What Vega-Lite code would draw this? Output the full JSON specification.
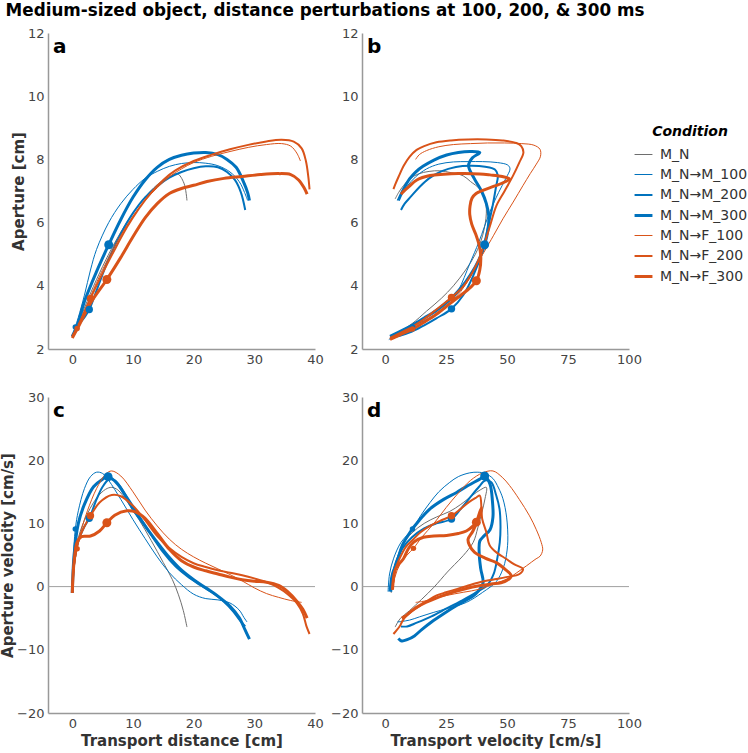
{
"$schema":"https://vega.github.io/schema/vega-lite/v6.json",
"background":"white",
"padding":{"left":0,"top":3,"right":2,"bottom":2},
"title":{"text":"Medium-sized object, distance perturbations at 100, 200, & 300 ms","anchor":"start","frame":"bounds","fontSize":16.8,"font":"DejaVu Sans","fontWeight":"bold","color":"black","offset":7,"dx":5},
"datasets":{
"a":[
{"c":"M_N","i":0,"x":0,"y":2.4},{"c":"M_N","i":1,"x":1,"y":2.8},{"c":"M_N","i":2,"x":2,"y":3.3},{"c":"M_N","i":3,"x":4,"y":4.2},{"c":"M_N","i":4,"x":6,"y":5.0},{"c":"M_N","i":5,"x":8,"y":5.7},{"c":"M_N","i":6,"x":10,"y":6.3},{"c":"M_N","i":7,"x":12,"y":6.8},{"c":"M_N","i":8,"x":14,"y":7.2},{"c":"M_N","i":9,"x":16,"y":7.45},{"c":"M_N","i":10,"x":17.3,"y":7.55},{"c":"M_N","i":11,"x":18.4,"y":7.25},{"c":"M_N","i":12,"x":18.9,"y":6.7},
{"c":"M_N→M_100","i":0,"x":0,"y":2.35},{"c":"M_N→M_100","i":1,"x":0.5,"y":2.7},{"c":"M_N→M_100","i":2,"x":1,"y":3.0},{"c":"M_N→M_100","i":3,"x":2,"y":3.7},{"c":"M_N→M_100","i":4,"x":3,"y":4.5},{"c":"M_N→M_100","i":5,"x":4,"y":5.15},{"c":"M_N→M_100","i":6,"x":6,"y":6.0},{"c":"M_N→M_100","i":7,"x":8,"y":6.6},{"c":"M_N→M_100","i":8,"x":10,"y":7.05},{"c":"M_N→M_100","i":9,"x":12,"y":7.4},{"c":"M_N→M_100","i":10,"x":14,"y":7.62},{"c":"M_N→M_100","i":11,"x":16,"y":7.78},{"c":"M_N→M_100","i":12,"x":18,"y":7.87},{"c":"M_N→M_100","i":13,"x":20,"y":7.9},{"c":"M_N→M_100","i":14,"x":22,"y":7.88},{"c":"M_N→M_100","i":15,"x":24,"y":7.8},{"c":"M_N→M_100","i":16,"x":26,"y":7.6},{"c":"M_N→M_100","i":17,"x":27.5,"y":7.3},{"c":"M_N→M_100","i":18,"x":28.4,"y":6.95},{"c":"M_N→M_100","i":19,"x":28.9,"y":6.7},
{"c":"M_N→M_200","i":0,"x":0,"y":2.4},{"c":"M_N→M_200","i":1,"x":1,"y":2.75},{"c":"M_N→M_200","i":2,"x":2,"y":3.0},{"c":"M_N→M_200","i":3,"x":2.8,"y":3.25},{"c":"M_N→M_200","i":4,"x":4,"y":3.85},{"c":"M_N→M_200","i":5,"x":6,"y":4.85},{"c":"M_N→M_200","i":6,"x":8,"y":5.65},{"c":"M_N→M_200","i":7,"x":10,"y":6.3},{"c":"M_N→M_200","i":8,"x":12,"y":6.8},{"c":"M_N→M_200","i":9,"x":14,"y":7.15},{"c":"M_N→M_200","i":10,"x":16,"y":7.42},{"c":"M_N→M_200","i":11,"x":18,"y":7.6},{"c":"M_N→M_200","i":12,"x":20,"y":7.72},{"c":"M_N→M_200","i":13,"x":22,"y":7.78},{"c":"M_N→M_200","i":14,"x":24,"y":7.75},{"c":"M_N→M_200","i":15,"x":25.5,"y":7.6},{"c":"M_N→M_200","i":16,"x":26.8,"y":7.35},{"c":"M_N→M_200","i":17,"x":27.8,"y":6.95},{"c":"M_N→M_200","i":18,"x":28.5,"y":6.4},
{"c":"M_N→M_300","i":0,"x":0,"y":2.4},{"c":"M_N→M_300","i":1,"x":1,"y":2.85},{"c":"M_N→M_300","i":2,"x":2,"y":3.5},{"c":"M_N→M_300","i":3,"x":4,"y":4.45},{"c":"M_N→M_300","i":4,"x":6,"y":5.3},{"c":"M_N→M_300","i":5,"x":8,"y":6.1},{"c":"M_N→M_300","i":6,"x":10,"y":6.8},{"c":"M_N→M_300","i":7,"x":12,"y":7.35},{"c":"M_N→M_300","i":8,"x":14,"y":7.75},{"c":"M_N→M_300","i":9,"x":16,"y":8.0},{"c":"M_N→M_300","i":10,"x":18,"y":8.13},{"c":"M_N→M_300","i":11,"x":20,"y":8.2},{"c":"M_N→M_300","i":12,"x":22,"y":8.22},{"c":"M_N→M_300","i":13,"x":24,"y":8.15},{"c":"M_N→M_300","i":14,"x":25.5,"y":8.0},{"c":"M_N→M_300","i":15,"x":27,"y":7.75},{"c":"M_N→M_300","i":16,"x":28.2,"y":7.3},{"c":"M_N→M_300","i":17,"x":28.9,"y":6.95},{"c":"M_N→M_300","i":18,"x":29.2,"y":6.7},
{"c":"M_N→F_100","i":0,"x":0,"y":2.4},{"c":"M_N→F_100","i":1,"x":0.8,"y":2.65},{"c":"M_N→F_100","i":2,"x":2,"y":3.2},{"c":"M_N→F_100","i":3,"x":4,"y":4.1},{"c":"M_N→F_100","i":4,"x":6,"y":4.9},{"c":"M_N→F_100","i":5,"x":8,"y":5.6},{"c":"M_N→F_100","i":6,"x":10,"y":6.2},{"c":"M_N→F_100","i":7,"x":12,"y":6.7},{"c":"M_N→F_100","i":8,"x":14,"y":7.1},{"c":"M_N→F_100","i":9,"x":16,"y":7.45},{"c":"M_N→F_100","i":10,"x":18,"y":7.7},{"c":"M_N→F_100","i":11,"x":20,"y":7.9},{"c":"M_N→F_100","i":12,"x":23,"y":8.1},{"c":"M_N→F_100","i":13,"x":26,"y":8.25},{"c":"M_N→F_100","i":14,"x":29,"y":8.38},{"c":"M_N→F_100","i":15,"x":32,"y":8.47},{"c":"M_N→F_100","i":16,"x":34.5,"y":8.5},{"c":"M_N→F_100","i":17,"x":36,"y":8.42},{"c":"M_N→F_100","i":18,"x":37,"y":8.2},{"c":"M_N→F_100","i":19,"x":37.6,"y":7.95},
{"c":"M_N→F_200","i":0,"x":0,"y":2.4},{"c":"M_N→F_200","i":1,"x":1,"y":2.75},{"c":"M_N→F_200","i":2,"x":3,"y":3.6},{"c":"M_N→F_200","i":3,"x":5,"y":4.4},{"c":"M_N→F_200","i":4,"x":7,"y":5.15},{"c":"M_N→F_200","i":5,"x":9,"y":5.85},{"c":"M_N→F_200","i":6,"x":11,"y":6.45},{"c":"M_N→F_200","i":7,"x":13,"y":6.95},{"c":"M_N→F_200","i":8,"x":15,"y":7.35},{"c":"M_N→F_200","i":9,"x":17,"y":7.65},{"c":"M_N→F_200","i":10,"x":20,"y":7.95},{"c":"M_N→F_200","i":11,"x":23,"y":8.15},{"c":"M_N→F_200","i":12,"x":26,"y":8.32},{"c":"M_N→F_200","i":13,"x":29,"y":8.46},{"c":"M_N→F_200","i":14,"x":32,"y":8.57},{"c":"M_N→F_200","i":15,"x":34.5,"y":8.62},{"c":"M_N→F_200","i":16,"x":36.5,"y":8.56},{"c":"M_N→F_200","i":17,"x":37.8,"y":8.35},{"c":"M_N→F_200","i":18,"x":38.5,"y":7.95},{"c":"M_N→F_200","i":19,"x":38.9,"y":7.45},{"c":"M_N→F_200","i":20,"x":39.1,"y":7.05},
{"c":"M_N→F_300","i":0,"x":0,"y":2.35},{"c":"M_N→F_300","i":1,"x":1,"y":2.7},{"c":"M_N→F_300","i":2,"x":3,"y":3.45},{"c":"M_N→F_300","i":3,"x":5.7,"y":4.2},{"c":"M_N→F_300","i":4,"x":8,"y":4.9},{"c":"M_N→F_300","i":5,"x":10,"y":5.55},{"c":"M_N→F_300","i":6,"x":12,"y":6.15},{"c":"M_N→F_300","i":7,"x":14,"y":6.6},{"c":"M_N→F_300","i":8,"x":16,"y":6.92},{"c":"M_N→F_300","i":9,"x":18,"y":7.08},{"c":"M_N→F_300","i":10,"x":20,"y":7.18},{"c":"M_N→F_300","i":11,"x":22.2,"y":7.3},{"c":"M_N→F_300","i":12,"x":25,"y":7.4},{"c":"M_N→F_300","i":13,"x":28,"y":7.46},{"c":"M_N→F_300","i":14,"x":31,"y":7.52},{"c":"M_N→F_300","i":15,"x":34,"y":7.55},{"c":"M_N→F_300","i":16,"x":36,"y":7.52},{"c":"M_N→F_300","i":17,"x":37.3,"y":7.35},{"c":"M_N→F_300","i":18,"x":38.2,"y":7.1},{"c":"M_N→F_300","i":19,"x":38.7,"y":6.9}
],
"b":[
{"c":"M_N","i":0,"x":2.5,"y":2.4},{"c":"M_N","i":1,"x":6,"y":2.55},{"c":"M_N","i":2,"x":11,"y":2.8},{"c":"M_N","i":3,"x":17,"y":3.2},{"c":"M_N","i":4,"x":23,"y":3.6},{"c":"M_N","i":5,"x":28,"y":4.0},{"c":"M_N","i":6,"x":33,"y":4.5},{"c":"M_N","i":7,"x":37,"y":5.0},{"c":"M_N","i":8,"x":40,"y":5.6},{"c":"M_N","i":9,"x":41.5,"y":6.3},{"c":"M_N","i":10,"x":41,"y":6.7},{"c":"M_N","i":11,"x":38.8,"y":7.06},{"c":"M_N","i":12,"x":35,"y":7.3},{"c":"M_N","i":13,"x":32,"y":7.48},{"c":"M_N","i":14,"x":27,"y":7.58},{"c":"M_N","i":15,"x":22.4,"y":7.64},{"c":"M_N","i":16,"x":18,"y":7.62},{"c":"M_N","i":17,"x":13.6,"y":7.54},{"c":"M_N","i":18,"x":10,"y":7.38},{"c":"M_N","i":19,"x":7.5,"y":7.17},{"c":"M_N","i":20,"x":5.5,"y":6.95},{"c":"M_N","i":21,"x":4.1,"y":6.75},
{"c":"M_N→M_100","i":0,"x":1.5,"y":2.3},{"c":"M_N→M_100","i":1,"x":5,"y":2.45},{"c":"M_N→M_100","i":2,"x":11.2,"y":2.7},{"c":"M_N→M_100","i":3,"x":16,"y":2.9},{"c":"M_N→M_100","i":4,"x":21,"y":3.1},{"c":"M_N→M_100","i":5,"x":26,"y":3.4},{"c":"M_N→M_100","i":6,"x":30,"y":3.85},{"c":"M_N→M_100","i":7,"x":34.7,"y":4.7},{"c":"M_N→M_100","i":8,"x":38.5,"y":5.4},{"c":"M_N→M_100","i":9,"x":42.9,"y":6.33},{"c":"M_N→M_100","i":10,"x":46.5,"y":6.95},{"c":"M_N→M_100","i":11,"x":49.5,"y":7.4},{"c":"M_N→M_100","i":12,"x":51.2,"y":7.7},{"c":"M_N→M_100","i":13,"x":50.3,"y":7.82},{"c":"M_N→M_100","i":14,"x":46,"y":7.9},{"c":"M_N→M_100","i":15,"x":40,"y":7.93},{"c":"M_N→M_100","i":16,"x":34,"y":7.93},{"c":"M_N→M_100","i":17,"x":28,"y":7.92},{"c":"M_N→M_100","i":18,"x":22,"y":7.85},{"c":"M_N→M_100","i":19,"x":17,"y":7.7},{"c":"M_N→M_100","i":20,"x":12.5,"y":7.45},{"c":"M_N→M_100","i":21,"x":9,"y":7.15},{"c":"M_N→M_100","i":22,"x":6.5,"y":6.9},{"c":"M_N→M_100","i":23,"x":5,"y":6.7},
{"c":"M_N→M_200","i":0,"x":2,"y":2.35},{"c":"M_N→M_200","i":1,"x":6,"y":2.42},{"c":"M_N→M_200","i":2,"x":11,"y":2.55},{"c":"M_N→M_200","i":3,"x":16,"y":2.75},{"c":"M_N→M_200","i":4,"x":21,"y":2.97},{"c":"M_N→M_200","i":5,"x":27.2,"y":3.27},{"c":"M_N→M_200","i":6,"x":32,"y":3.7},{"c":"M_N→M_200","i":7,"x":36,"y":4.3},{"c":"M_N→M_200","i":8,"x":39.5,"y":5.0},{"c":"M_N→M_200","i":9,"x":42,"y":5.8},{"c":"M_N→M_200","i":10,"x":44,"y":6.5},{"c":"M_N→M_200","i":11,"x":45.5,"y":7.15},{"c":"M_N→M_200","i":12,"x":46.2,"y":7.5},{"c":"M_N→M_200","i":13,"x":45,"y":7.68},{"c":"M_N→M_200","i":14,"x":41,"y":7.77},{"c":"M_N→M_200","i":15,"x":35,"y":7.8},{"c":"M_N→M_200","i":16,"x":29,"y":7.76},{"c":"M_N→M_200","i":17,"x":23,"y":7.62},{"c":"M_N→M_200","i":18,"x":18,"y":7.4},{"c":"M_N→M_200","i":19,"x":14,"y":7.12},{"c":"M_N→M_200","i":20,"x":10.5,"y":6.82},{"c":"M_N→M_200","i":21,"x":8,"y":6.6},{"c":"M_N→M_200","i":22,"x":6.5,"y":6.4},
{"c":"M_N→M_300","i":0,"x":2,"y":2.4},{"c":"M_N→M_300","i":1,"x":6,"y":2.55},{"c":"M_N→M_300","i":2,"x":11,"y":2.75},{"c":"M_N→M_300","i":3,"x":16,"y":2.98},{"c":"M_N→M_300","i":4,"x":21,"y":3.22},{"c":"M_N→M_300","i":5,"x":26,"y":3.52},{"c":"M_N→M_300","i":6,"x":31,"y":3.92},{"c":"M_N→M_300","i":7,"x":35,"y":4.35},{"c":"M_N→M_300","i":8,"x":38.3,"y":4.8},{"c":"M_N→M_300","i":9,"x":40.8,"y":5.3},{"c":"M_N→M_300","i":10,"x":42.2,"y":5.8},{"c":"M_N→M_300","i":11,"x":42.5,"y":6.2},{"c":"M_N→M_300","i":12,"x":41.5,"y":6.6},{"c":"M_N→M_300","i":13,"x":39.5,"y":7.0},{"c":"M_N→M_300","i":14,"x":36.5,"y":7.4},{"c":"M_N→M_300","i":15,"x":34.2,"y":7.8},{"c":"M_N→M_300","i":16,"x":35.8,"y":8.05},{"c":"M_N→M_300","i":17,"x":38.8,"y":8.22},{"c":"M_N→M_300","i":18,"x":35,"y":8.25},{"c":"M_N→M_300","i":19,"x":30,"y":8.22},{"c":"M_N→M_300","i":20,"x":25.2,"y":8.14},{"c":"M_N→M_300","i":21,"x":20,"y":7.98},{"c":"M_N→M_300","i":22,"x":15.5,"y":7.78},{"c":"M_N→M_300","i":23,"x":12.5,"y":7.6},{"c":"M_N→M_300","i":24,"x":10,"y":7.38},{"c":"M_N→M_300","i":25,"x":7.5,"y":7.05},{"c":"M_N→M_300","i":26,"x":5.4,"y":6.7},
{"c":"M_N→F_100","i":0,"x":2,"y":2.35},{"c":"M_N→F_100","i":1,"x":6,"y":2.45},{"c":"M_N→F_100","i":2,"x":11.2,"y":2.63},{"c":"M_N→F_100","i":3,"x":16,"y":2.85},{"c":"M_N→F_100","i":4,"x":21,"y":3.1},{"c":"M_N→F_100","i":5,"x":26,"y":3.42},{"c":"M_N→F_100","i":6,"x":31,"y":3.82},{"c":"M_N→F_100","i":7,"x":35,"y":4.3},{"c":"M_N→F_100","i":8,"x":38.5,"y":4.8},{"c":"M_N→F_100","i":9,"x":40.8,"y":5.1},{"c":"M_N→F_100","i":10,"x":44.5,"y":5.6},{"c":"M_N→F_100","i":11,"x":48.3,"y":6.12},{"c":"M_N→F_100","i":12,"x":52.5,"y":6.65},{"c":"M_N→F_100","i":13,"x":56.5,"y":7.17},{"c":"M_N→F_100","i":14,"x":59.5,"y":7.55},{"c":"M_N→F_100","i":15,"x":62,"y":7.85},{"c":"M_N→F_100","i":16,"x":63.7,"y":8.1},{"c":"M_N→F_100","i":17,"x":63.5,"y":8.32},{"c":"M_N→F_100","i":18,"x":61,"y":8.45},{"c":"M_N→F_100","i":19,"x":56,"y":8.5},{"c":"M_N→F_100","i":20,"x":49,"y":8.52},{"c":"M_N→F_100","i":21,"x":42,"y":8.52},{"c":"M_N→F_100","i":22,"x":35,"y":8.5},{"c":"M_N→F_100","i":23,"x":28,"y":8.47},{"c":"M_N→F_100","i":24,"x":22,"y":8.4},{"c":"M_N→F_100","i":25,"x":17,"y":8.28},{"c":"M_N→F_100","i":26,"x":14,"y":8.15},{"c":"M_N→F_100","i":27,"x":12.5,"y":8.0},
{"c":"M_N→F_200","i":0,"x":2,"y":2.35},{"c":"M_N→F_200","i":1,"x":6,"y":2.5},{"c":"M_N→F_200","i":2,"x":11,"y":2.7},{"c":"M_N→F_200","i":3,"x":16,"y":2.95},{"c":"M_N→F_200","i":4,"x":21,"y":3.25},{"c":"M_N→F_200","i":5,"x":27.2,"y":3.63},{"c":"M_N→F_200","i":6,"x":32,"y":3.98},{"c":"M_N→F_200","i":7,"x":36,"y":4.45},{"c":"M_N→F_200","i":8,"x":39,"y":4.95},{"c":"M_N→F_200","i":9,"x":41.2,"y":5.45},{"c":"M_N→F_200","i":10,"x":43.2,"y":5.95},{"c":"M_N→F_200","i":11,"x":45.6,"y":6.53},{"c":"M_N→F_200","i":12,"x":49,"y":7.0},{"c":"M_N→F_200","i":13,"x":52.4,"y":7.48},{"c":"M_N→F_200","i":14,"x":55,"y":7.9},{"c":"M_N→F_200","i":15,"x":56.7,"y":8.22},{"c":"M_N→F_200","i":16,"x":55.8,"y":8.42},{"c":"M_N→F_200","i":17,"x":53.8,"y":8.52},{"c":"M_N→F_200","i":18,"x":48,"y":8.6},{"c":"M_N→F_200","i":19,"x":41.5,"y":8.63},{"c":"M_N→F_200","i":20,"x":34,"y":8.63},{"c":"M_N→F_200","i":21,"x":27,"y":8.6},{"c":"M_N→F_200","i":22,"x":21,"y":8.54},{"c":"M_N→F_200","i":23,"x":16,"y":8.42},{"c":"M_N→F_200","i":24,"x":12.9,"y":8.3},{"c":"M_N→F_200","i":25,"x":10,"y":8.08},{"c":"M_N→F_200","i":26,"x":7.6,"y":7.8},{"c":"M_N→F_200","i":27,"x":5.5,"y":7.45},{"c":"M_N→F_200","i":28,"x":4.1,"y":7.2},{"c":"M_N→F_200","i":29,"x":3.4,"y":7.06},
{"c":"M_N→F_300","i":0,"x":2,"y":2.3},{"c":"M_N→F_300","i":1,"x":6,"y":2.45},{"c":"M_N→F_300","i":2,"x":11,"y":2.62},{"c":"M_N→F_300","i":3,"x":16,"y":2.85},{"c":"M_N→F_300","i":4,"x":21,"y":3.1},{"c":"M_N→F_300","i":5,"x":26,"y":3.4},{"c":"M_N→F_300","i":6,"x":31,"y":3.7},{"c":"M_N→F_300","i":7,"x":35,"y":3.95},{"c":"M_N→F_300","i":8,"x":37.4,"y":4.16},{"c":"M_N→F_300","i":9,"x":38.8,"y":4.5},{"c":"M_N→F_300","i":10,"x":39.2,"y":4.95},{"c":"M_N→F_300","i":11,"x":38.5,"y":5.3},{"c":"M_N→F_300","i":12,"x":37.2,"y":5.62},{"c":"M_N→F_300","i":13,"x":35.5,"y":5.95},{"c":"M_N→F_300","i":14,"x":34.7,"y":6.25},{"c":"M_N→F_300","i":15,"x":34.8,"y":6.52},{"c":"M_N→F_300","i":16,"x":35.6,"y":6.77},{"c":"M_N→F_300","i":17,"x":37.3,"y":6.92},{"c":"M_N→F_300","i":18,"x":40.1,"y":7.02},{"c":"M_N→F_300","i":19,"x":45,"y":7.16},{"c":"M_N→F_300","i":20,"x":49.5,"y":7.3},{"c":"M_N→F_300","i":21,"x":51,"y":7.38},{"c":"M_N→F_300","i":22,"x":48,"y":7.46},{"c":"M_N→F_300","i":23,"x":43,"y":7.51},{"c":"M_N→F_300","i":24,"x":38.8,"y":7.54},{"c":"M_N→F_300","i":25,"x":30,"y":7.55},{"c":"M_N→F_300","i":26,"x":24,"y":7.53},{"c":"M_N→F_300","i":27,"x":18.4,"y":7.49},{"c":"M_N→F_300","i":28,"x":13,"y":7.35},{"c":"M_N→F_300","i":29,"x":9.5,"y":7.12},{"c":"M_N→F_300","i":30,"x":7.5,"y":6.98},{"c":"M_N→F_300","i":31,"x":6.5,"y":6.9}
],
"c":[
{"c":"M_N","i":0,"x":0,"y":-1},{"c":"M_N","i":1,"x":0.3,"y":4},{"c":"M_N","i":2,"x":0.8,"y":7},{"c":"M_N","i":3,"x":2,"y":10.5},{"c":"M_N","i":4,"x":4,"y":14},{"c":"M_N","i":5,"x":5.5,"y":15.4},{"c":"M_N","i":6,"x":6.5,"y":15.7},{"c":"M_N","i":7,"x":7.5,"y":15.3},{"c":"M_N","i":8,"x":9,"y":13.5},{"c":"M_N","i":9,"x":11,"y":10.6},{"c":"M_N","i":10,"x":13,"y":7.3},{"c":"M_N","i":11,"x":15,"y":3.8},{"c":"M_N","i":12,"x":16.5,"y":1.1},{"c":"M_N","i":13,"x":17.5,"y":-1.3},{"c":"M_N","i":14,"x":18.3,"y":-3.8},{"c":"M_N","i":15,"x":18.9,"y":-6.4},
{"c":"M_N→M_100","i":0,"x":0,"y":-1},{"c":"M_N→M_100","i":1,"x":0.15,"y":4},{"c":"M_N→M_100","i":2,"x":0.5,"y":9.1},{"c":"M_N→M_100","i":3,"x":1,"y":12},{"c":"M_N→M_100","i":4,"x":2,"y":15.5},{"c":"M_N→M_100","i":5,"x":3,"y":17.4},{"c":"M_N→M_100","i":6,"x":4,"y":18.1},{"c":"M_N→M_100","i":7,"x":5,"y":17.9},{"c":"M_N→M_100","i":8,"x":6,"y":16.8},{"c":"M_N→M_100","i":9,"x":8,"y":13.8},{"c":"M_N→M_100","i":10,"x":10,"y":10.6},{"c":"M_N→M_100","i":11,"x":12,"y":7.6},{"c":"M_N→M_100","i":12,"x":14,"y":4.7},{"c":"M_N→M_100","i":13,"x":16,"y":2.2},{"c":"M_N→M_100","i":14,"x":18,"y":0.3},{"c":"M_N→M_100","i":15,"x":20,"y":-1.2},{"c":"M_N→M_100","i":16,"x":22,"y":-1.9},{"c":"M_N→M_100","i":17,"x":24,"y":-2.1},{"c":"M_N→M_100","i":18,"x":26,"y":-2.6},{"c":"M_N→M_100","i":19,"x":27.5,"y":-3.7},{"c":"M_N→M_100","i":20,"x":28.3,"y":-4.9},{"c":"M_N→M_100","i":21,"x":28.8,"y":-5.6},
{"c":"M_N→M_200","i":0,"x":0,"y":-1},{"c":"M_N→M_200","i":1,"x":0.3,"y":3.5},{"c":"M_N→M_200","i":2,"x":1,"y":7.2},{"c":"M_N→M_200","i":3,"x":2,"y":9.5},{"c":"M_N→M_200","i":4,"x":2.8,"y":10.8},{"c":"M_N→M_200","i":5,"x":4,"y":13.8},{"c":"M_N→M_200","i":6,"x":5,"y":15.8},{"c":"M_N→M_200","i":7,"x":6,"y":16.9},{"c":"M_N→M_200","i":8,"x":7,"y":16.8},{"c":"M_N→M_200","i":9,"x":9,"y":14.2},{"c":"M_N→M_200","i":10,"x":11,"y":11.2},{"c":"M_N→M_200","i":11,"x":13,"y":8.2},{"c":"M_N→M_200","i":12,"x":15,"y":5.4},{"c":"M_N→M_200","i":13,"x":17,"y":3.2},{"c":"M_N→M_200","i":14,"x":19,"y":1.6},{"c":"M_N→M_200","i":15,"x":21,"y":0.3},{"c":"M_N→M_200","i":16,"x":23,"y":-0.9},{"c":"M_N→M_200","i":17,"x":25,"y":-2.4},{"c":"M_N→M_200","i":18,"x":26.5,"y":-3.9},{"c":"M_N→M_200","i":19,"x":27.6,"y":-5.3},{"c":"M_N→M_200","i":20,"x":28.5,"y":-6.3},
{"c":"M_N→M_300","i":0,"x":0,"y":-1},{"c":"M_N→M_300","i":1,"x":0.3,"y":5},{"c":"M_N→M_300","i":2,"x":1,"y":10},{"c":"M_N→M_300","i":3,"x":2,"y":13},{"c":"M_N→M_300","i":4,"x":3.5,"y":15.8},{"c":"M_N→M_300","i":5,"x":5,"y":17},{"c":"M_N→M_300","i":6,"x":5.9,"y":17.4},{"c":"M_N→M_300","i":7,"x":7.5,"y":16.2},{"c":"M_N→M_300","i":8,"x":10,"y":12.3},{"c":"M_N→M_300","i":9,"x":12,"y":9.6},{"c":"M_N→M_300","i":10,"x":14,"y":7.0},{"c":"M_N→M_300","i":11,"x":16,"y":4.6},{"c":"M_N→M_300","i":12,"x":18,"y":2.6},{"c":"M_N→M_300","i":13,"x":20,"y":1.1},{"c":"M_N→M_300","i":14,"x":22,"y":-0.2},{"c":"M_N→M_300","i":15,"x":24,"y":-1.5},{"c":"M_N→M_300","i":16,"x":26,"y":-3.1},{"c":"M_N→M_300","i":17,"x":27.5,"y":-4.9},{"c":"M_N→M_300","i":18,"x":28.5,"y":-6.9},{"c":"M_N→M_300","i":19,"x":29.2,"y":-8.3},
{"c":"M_N→F_100","i":0,"x":0,"y":-1},{"c":"M_N→F_100","i":1,"x":0.3,"y":3},{"c":"M_N→F_100","i":2,"x":0.8,"y":6},{"c":"M_N→F_100","i":3,"x":1.5,"y":9},{"c":"M_N→F_100","i":4,"x":2.5,"y":12},{"c":"M_N→F_100","i":5,"x":4,"y":15.5},{"c":"M_N→F_100","i":6,"x":5.5,"y":17.8},{"c":"M_N→F_100","i":7,"x":6.5,"y":18.3},{"c":"M_N→F_100","i":8,"x":8,"y":17.5},{"c":"M_N→F_100","i":9,"x":10,"y":15},{"c":"M_N→F_100","i":10,"x":12,"y":12.1},{"c":"M_N→F_100","i":11,"x":14,"y":9.6},{"c":"M_N→F_100","i":12,"x":16,"y":7.5},{"c":"M_N→F_100","i":13,"x":18,"y":5.9},{"c":"M_N→F_100","i":14,"x":20,"y":4.7},{"c":"M_N→F_100","i":15,"x":22,"y":3.7},{"c":"M_N→F_100","i":16,"x":24,"y":2.8},{"c":"M_N→F_100","i":17,"x":26,"y":1.9},{"c":"M_N→F_100","i":18,"x":28,"y":0.9},{"c":"M_N→F_100","i":19,"x":30,"y":-0.2},{"c":"M_N→F_100","i":20,"x":32,"y":-1.1},{"c":"M_N→F_100","i":21,"x":34,"y":-1.7},{"c":"M_N→F_100","i":22,"x":36,"y":-2.2},{"c":"M_N→F_100","i":23,"x":37.8,"y":-2.5},
{"c":"M_N→F_200","i":0,"x":0,"y":-1},{"c":"M_N→F_200","i":1,"x":0.3,"y":3.5},{"c":"M_N→F_200","i":2,"x":1,"y":7.2},{"c":"M_N→F_200","i":3,"x":2,"y":9.5},{"c":"M_N→F_200","i":4,"x":3,"y":11.2},{"c":"M_N→F_200","i":5,"x":4.5,"y":13.3},{"c":"M_N→F_200","i":6,"x":6.5,"y":14.5},{"c":"M_N→F_200","i":7,"x":8,"y":14.3},{"c":"M_N→F_200","i":8,"x":10,"y":12.8},{"c":"M_N→F_200","i":9,"x":12,"y":10.5},{"c":"M_N→F_200","i":10,"x":14,"y":8},{"c":"M_N→F_200","i":11,"x":16,"y":6.1},{"c":"M_N→F_200","i":12,"x":18,"y":4.7},{"c":"M_N→F_200","i":13,"x":20,"y":3.7},{"c":"M_N→F_200","i":14,"x":22,"y":3.1},{"c":"M_N→F_200","i":15,"x":24,"y":2.6},{"c":"M_N→F_200","i":16,"x":26,"y":2.2},{"c":"M_N→F_200","i":17,"x":28,"y":1.8},{"c":"M_N→F_200","i":18,"x":30,"y":1.3},{"c":"M_N→F_200","i":19,"x":32,"y":0.7},{"c":"M_N→F_200","i":20,"x":34,"y":-0.2},{"c":"M_N→F_200","i":21,"x":35.5,"y":-1.2},{"c":"M_N→F_200","i":22,"x":37,"y":-2.6},{"c":"M_N→F_200","i":23,"x":38,"y":-4.3},{"c":"M_N→F_200","i":24,"x":38.6,"y":-6.3},{"c":"M_N→F_200","i":25,"x":39.1,"y":-7.5},
{"c":"M_N→F_300","i":0,"x":0,"y":-1},{"c":"M_N→F_300","i":1,"x":0.3,"y":4},{"c":"M_N→F_300","i":2,"x":0.8,"y":7},{"c":"M_N→F_300","i":3,"x":1.5,"y":7.9},{"c":"M_N→F_300","i":4,"x":3,"y":8.0},{"c":"M_N→F_300","i":5,"x":4.5,"y":8.8},{"c":"M_N→F_300","i":6,"x":5.7,"y":10.1},{"c":"M_N→F_300","i":7,"x":7,"y":11.3},{"c":"M_N→F_300","i":8,"x":9,"y":12},{"c":"M_N→F_300","i":9,"x":10.5,"y":11.8},{"c":"M_N→F_300","i":10,"x":12,"y":10.8},{"c":"M_N→F_300","i":11,"x":14,"y":8.4},{"c":"M_N→F_300","i":12,"x":16,"y":5.9},{"c":"M_N→F_300","i":13,"x":18,"y":4.1},{"c":"M_N→F_300","i":14,"x":20,"y":3.1},{"c":"M_N→F_300","i":15,"x":22,"y":2.5},{"c":"M_N→F_300","i":16,"x":24,"y":2.0},{"c":"M_N→F_300","i":17,"x":26,"y":1.5},{"c":"M_N→F_300","i":18,"x":28,"y":1.1},{"c":"M_N→F_300","i":19,"x":30,"y":0.85},{"c":"M_N→F_300","i":20,"x":32,"y":0.7},{"c":"M_N→F_300","i":21,"x":34,"y":0.2},{"c":"M_N→F_300","i":22,"x":35.5,"y":-0.8},{"c":"M_N→F_300","i":23,"x":37,"y":-2.3},{"c":"M_N→F_300","i":24,"x":38,"y":-3.6},{"c":"M_N→F_300","i":25,"x":38.7,"y":-5.0}
],
"d":[
{"c":"M_N","i":0,"x":2.5,"y":-1},{"c":"M_N","i":1,"x":3,"y":1.5},{"c":"M_N","i":2,"x":4.5,"y":4},{"c":"M_N","i":3,"x":7,"y":6.5},{"c":"M_N","i":4,"x":11,"y":8.5},{"c":"M_N","i":5,"x":16,"y":10},{"c":"M_N","i":6,"x":21,"y":11},{"c":"M_N","i":7,"x":26.5,"y":11.9},{"c":"M_N","i":8,"x":31,"y":13},{"c":"M_N","i":9,"x":36,"y":14.5},{"c":"M_N","i":10,"x":39,"y":15.3},{"c":"M_N","i":11,"x":41.5,"y":15.7},{"c":"M_N","i":12,"x":41,"y":14},{"c":"M_N","i":13,"x":39.5,"y":11.5},{"c":"M_N","i":14,"x":38,"y":9.3},{"c":"M_N","i":15,"x":36.1,"y":7},{"c":"M_N","i":16,"x":32,"y":4.9},{"c":"M_N","i":17,"x":28.5,"y":3.5},{"c":"M_N","i":18,"x":25.5,"y":2.3},{"c":"M_N","i":19,"x":20,"y":-0.1},{"c":"M_N","i":20,"x":15,"y":-2},{"c":"M_N","i":21,"x":10,"y":-3.8},{"c":"M_N","i":22,"x":6.1,"y":-5.1},{"c":"M_N","i":23,"x":4.1,"y":-6.4},
{"c":"M_N→M_100","i":0,"x":1.2,"y":-0.8},{"c":"M_N→M_100","i":1,"x":1.8,"y":2},{"c":"M_N→M_100","i":2,"x":3.5,"y":4.5},{"c":"M_N→M_100","i":3,"x":6.5,"y":7},{"c":"M_N→M_100","i":4,"x":11.2,"y":9.1},{"c":"M_N→M_100","i":5,"x":14.5,"y":11.2},{"c":"M_N→M_100","i":6,"x":18.4,"y":13.3},{"c":"M_N→M_100","i":7,"x":22,"y":15},{"c":"M_N→M_100","i":8,"x":26.5,"y":16.5},{"c":"M_N→M_100","i":9,"x":30,"y":17.4},{"c":"M_N→M_100","i":10,"x":34.7,"y":18.0},{"c":"M_N→M_100","i":11,"x":38,"y":18.1},{"c":"M_N→M_100","i":12,"x":41,"y":17.9},{"c":"M_N→M_100","i":13,"x":44.2,"y":17.1},{"c":"M_N→M_100","i":14,"x":46.5,"y":15.6},{"c":"M_N→M_100","i":15,"x":48.3,"y":13.9},{"c":"M_N→M_100","i":16,"x":49.8,"y":11},{"c":"M_N→M_100","i":17,"x":50.3,"y":7.2},{"c":"M_N→M_100","i":18,"x":49.5,"y":4.5},{"c":"M_N→M_100","i":19,"x":48.3,"y":2.8},{"c":"M_N→M_100","i":20,"x":45.6,"y":0.8},{"c":"M_N→M_100","i":21,"x":40,"y":-0.9},{"c":"M_N→M_100","i":22,"x":33.3,"y":-2.5},{"c":"M_N→M_100","i":23,"x":26,"y":-3.4},{"c":"M_N→M_100","i":24,"x":19.7,"y":-4.1},{"c":"M_N→M_100","i":25,"x":14,"y":-4.8},{"c":"M_N→M_100","i":26,"x":10,"y":-5.3},{"c":"M_N→M_100","i":27,"x":7,"y":-5.5},{"c":"M_N→M_100","i":28,"x":5,"y":-5.6},
{"c":"M_N→M_200","i":0,"x":2.5,"y":-0.8},{"c":"M_N→M_200","i":1,"x":3,"y":1.5},{"c":"M_N→M_200","i":2,"x":4.5,"y":4},{"c":"M_N→M_200","i":3,"x":7,"y":6},{"c":"M_N→M_200","i":4,"x":11,"y":7.8},{"c":"M_N→M_200","i":5,"x":16,"y":9.2},{"c":"M_N→M_200","i":6,"x":21,"y":10},{"c":"M_N→M_200","i":7,"x":27.2,"y":10.7},{"c":"M_N→M_200","i":8,"x":31,"y":12.3},{"c":"M_N→M_200","i":9,"x":35,"y":14.2},{"c":"M_N→M_200","i":10,"x":38.5,"y":15.8},{"c":"M_N→M_200","i":11,"x":41,"y":16.8},{"c":"M_N→M_200","i":12,"x":43.5,"y":16.5},{"c":"M_N→M_200","i":13,"x":45.5,"y":14.5},{"c":"M_N→M_200","i":14,"x":46.9,"y":12.3},{"c":"M_N→M_200","i":15,"x":47.3,"y":9.5},{"c":"M_N→M_200","i":16,"x":47,"y":7},{"c":"M_N→M_200","i":17,"x":46,"y":4.5},{"c":"M_N→M_200","i":18,"x":44.5,"y":2},{"c":"M_N→M_200","i":19,"x":42,"y":0.3},{"c":"M_N→M_200","i":20,"x":37,"y":-1},{"c":"M_N→M_200","i":21,"x":31,"y":-2.3},{"c":"M_N→M_200","i":22,"x":25,"y":-3.5},{"c":"M_N→M_200","i":23,"x":19,"y":-4.7},{"c":"M_N→M_200","i":24,"x":13,"y":-5.7},{"c":"M_N→M_200","i":25,"x":9,"y":-6.3},{"c":"M_N→M_200","i":26,"x":6.5,"y":-6.3},
{"c":"M_N→M_300","i":0,"x":2,"y":-0.8},{"c":"M_N→M_300","i":1,"x":3,"y":2},{"c":"M_N→M_300","i":2,"x":4.8,"y":3.8},{"c":"M_N→M_300","i":3,"x":7,"y":6.5},{"c":"M_N→M_300","i":4,"x":10.2,"y":8.6},{"c":"M_N→M_300","i":5,"x":14,"y":10.5},{"c":"M_N→M_300","i":6,"x":18.4,"y":12.3},{"c":"M_N→M_300","i":7,"x":24,"y":13.8},{"c":"M_N→M_300","i":8,"x":29.3,"y":14.9},{"c":"M_N→M_300","i":9,"x":34,"y":16},{"c":"M_N→M_300","i":10,"x":38.8,"y":17.0},{"c":"M_N→M_300","i":11,"x":40.8,"y":17.5},{"c":"M_N→M_300","i":12,"x":43,"y":16.2},{"c":"M_N→M_300","i":13,"x":44,"y":13.5},{"c":"M_N→M_300","i":14,"x":44.2,"y":11},{"c":"M_N→M_300","i":15,"x":43,"y":9},{"c":"M_N→M_300","i":16,"x":40.5,"y":8},{"c":"M_N→M_300","i":17,"x":38.8,"y":7.2},{"c":"M_N→M_300","i":18,"x":38.6,"y":5},{"c":"M_N→M_300","i":19,"x":39.2,"y":2.8},{"c":"M_N→M_300","i":20,"x":40.1,"y":0.5},{"c":"M_N→M_300","i":21,"x":37,"y":-1.2},{"c":"M_N→M_300","i":22,"x":33,"y":-2.2},{"c":"M_N→M_300","i":23,"x":29.3,"y":-3.0},{"c":"M_N→M_300","i":24,"x":24,"y":-4.3},{"c":"M_N→M_300","i":25,"x":19,"y":-5.6},{"c":"M_N→M_300","i":26,"x":15,"y":-6.8},{"c":"M_N→M_300","i":27,"x":12,"y":-7.8},{"c":"M_N→M_300","i":28,"x":9,"y":-8.4},{"c":"M_N→M_300","i":29,"x":6.8,"y":-8.6},{"c":"M_N→M_300","i":30,"x":5.4,"y":-8.2},
{"c":"M_N→F_100","i":0,"x":3,"y":-0.5},{"c":"M_N→F_100","i":1,"x":4,"y":1.5},{"c":"M_N→F_100","i":2,"x":6,"y":3.5},{"c":"M_N→F_100","i":3,"x":9,"y":5},{"c":"M_N→F_100","i":4,"x":11.6,"y":6.05},{"c":"M_N→F_100","i":5,"x":15,"y":7.8},{"c":"M_N→F_100","i":6,"x":20,"y":10},{"c":"M_N→F_100","i":7,"x":25,"y":12.5},{"c":"M_N→F_100","i":8,"x":30,"y":14.8},{"c":"M_N→F_100","i":9,"x":35,"y":16.8},{"c":"M_N→F_100","i":10,"x":40,"y":18},{"c":"M_N→F_100","i":11,"x":44.2,"y":18.3},{"c":"M_N→F_100","i":12,"x":48,"y":17.3},{"c":"M_N→F_100","i":13,"x":51,"y":16},{"c":"M_N→F_100","i":14,"x":55,"y":13.8},{"c":"M_N→F_100","i":15,"x":59.2,"y":11.2},{"c":"M_N→F_100","i":16,"x":62,"y":9},{"c":"M_N→F_100","i":17,"x":64,"y":7},{"c":"M_N→F_100","i":18,"x":64.6,"y":5.8},{"c":"M_N→F_100","i":19,"x":63.5,"y":4.8},{"c":"M_N→F_100","i":20,"x":61.9,"y":4.4},{"c":"M_N→F_100","i":21,"x":58,"y":3.3},{"c":"M_N→F_100","i":22,"x":54,"y":2.2},{"c":"M_N→F_100","i":23,"x":50,"y":1.2},{"c":"M_N→F_100","i":24,"x":45,"y":0.5},{"c":"M_N→F_100","i":25,"x":38.8,"y":-0.4},{"c":"M_N→F_100","i":26,"x":32,"y":-0.9},{"c":"M_N→F_100","i":27,"x":25.2,"y":-1.4},{"c":"M_N→F_100","i":28,"x":20,"y":-1.9},{"c":"M_N→F_100","i":29,"x":16,"y":-2.3},{"c":"M_N→F_100","i":30,"x":12.5,"y":-2.5},
{"c":"M_N→F_200","i":0,"x":3,"y":-0.5},{"c":"M_N→F_200","i":1,"x":4,"y":2.5},{"c":"M_N→F_200","i":2,"x":6,"y":4.5},{"c":"M_N→F_200","i":3,"x":8.5,"y":6.3},{"c":"M_N→F_200","i":4,"x":11.6,"y":7.5},{"c":"M_N→F_200","i":5,"x":14.5,"y":8.6},{"c":"M_N→F_200","i":6,"x":18.4,"y":9.6},{"c":"M_N→F_200","i":7,"x":22.5,"y":10.4},{"c":"M_N→F_200","i":8,"x":27.2,"y":11.2},{"c":"M_N→F_200","i":9,"x":31,"y":12.3},{"c":"M_N→F_200","i":10,"x":34.5,"y":13.4},{"c":"M_N→F_200","i":11,"x":37.4,"y":14.1},{"c":"M_N→F_200","i":12,"x":38.8,"y":14.4},{"c":"M_N→F_200","i":13,"x":39.5,"y":12.3},{"c":"M_N→F_200","i":14,"x":39.8,"y":10.7},{"c":"M_N→F_200","i":15,"x":41.5,"y":8.6},{"c":"M_N→F_200","i":16,"x":42.9,"y":6.5},{"c":"M_N→F_200","i":17,"x":46,"y":5.3},{"c":"M_N→F_200","i":18,"x":49.6,"y":4.4},{"c":"M_N→F_200","i":19,"x":53,"y":3.5},{"c":"M_N→F_200","i":20,"x":56.5,"y":2.8},{"c":"M_N→F_200","i":21,"x":55.1,"y":2.0},{"c":"M_N→F_200","i":22,"x":49.6,"y":1.5},{"c":"M_N→F_200","i":23,"x":44,"y":1.1},{"c":"M_N→F_200","i":24,"x":38.8,"y":0.7},{"c":"M_N→F_200","i":25,"x":33.5,"y":0.1},{"c":"M_N→F_200","i":26,"x":29.3,"y":-0.4},{"c":"M_N→F_200","i":27,"x":25,"y":-0.9},{"c":"M_N→F_200","i":28,"x":21.1,"y":-1.4},{"c":"M_N→F_200","i":29,"x":17.5,"y":-2.2},{"c":"M_N→F_200","i":30,"x":14.3,"y":-3.0},{"c":"M_N→F_200","i":31,"x":11,"y":-3.9},{"c":"M_N→F_200","i":32,"x":8.8,"y":-4.6},{"c":"M_N→F_200","i":33,"x":7,"y":-5.5},{"c":"M_N→F_200","i":34,"x":6.1,"y":-6.2},{"c":"M_N→F_200","i":35,"x":4.5,"y":-7},{"c":"M_N→F_200","i":36,"x":3.4,"y":-7.5},
{"c":"M_N→F_300","i":0,"x":3,"y":-0.5},{"c":"M_N→F_300","i":1,"x":4,"y":2.5},{"c":"M_N→F_300","i":2,"x":5.5,"y":3.5},{"c":"M_N→F_300","i":3,"x":7.5,"y":4.4},{"c":"M_N→F_300","i":4,"x":9.5,"y":6},{"c":"M_N→F_300","i":5,"x":11.6,"y":7.0},{"c":"M_N→F_300","i":6,"x":15.7,"y":7.8},{"c":"M_N→F_300","i":7,"x":20,"y":8.0},{"c":"M_N→F_300","i":8,"x":25.2,"y":8.1},{"c":"M_N→F_300","i":9,"x":30,"y":8.4},{"c":"M_N→F_300","i":10,"x":33.3,"y":8.8},{"c":"M_N→F_300","i":11,"x":36.1,"y":9.6},{"c":"M_N→F_300","i":12,"x":37.4,"y":10.2},{"c":"M_N→F_300","i":13,"x":38.8,"y":11.8},{"c":"M_N→F_300","i":14,"x":39.5,"y":12.5},{"c":"M_N→F_300","i":15,"x":38.5,"y":11},{"c":"M_N→F_300","i":16,"x":36,"y":8.8},{"c":"M_N→F_300","i":17,"x":34,"y":7.5},{"c":"M_N→F_300","i":18,"x":34.5,"y":6.6},{"c":"M_N→F_300","i":19,"x":36.7,"y":5.4},{"c":"M_N→F_300","i":20,"x":41,"y":4.5},{"c":"M_N→F_300","i":21,"x":45.6,"y":3.8},{"c":"M_N→F_300","i":22,"x":49,"y":2.8},{"c":"M_N→F_300","i":23,"x":51.7,"y":1.7},{"c":"M_N→F_300","i":24,"x":49,"y":0.8},{"c":"M_N→F_300","i":25,"x":43.5,"y":0.4},{"c":"M_N→F_300","i":26,"x":38,"y":0.1},{"c":"M_N→F_300","i":27,"x":33.3,"y":-0.3},{"c":"M_N→F_300","i":28,"x":26,"y":-1.1},{"c":"M_N→F_300","i":29,"x":19.7,"y":-2.0},{"c":"M_N→F_300","i":30,"x":15,"y":-2.8},{"c":"M_N→F_300","i":31,"x":11.6,"y":-3.6},{"c":"M_N→F_300","i":32,"x":8.2,"y":-4.7},{"c":"M_N→F_300","i":33,"x":6.8,"y":-5.0}
],
"dots":[
{"p":"a","c":"M_N→M_100","x":0.5,"y":2.7},{"p":"a","c":"M_N→M_200","x":2.8,"y":3.25},{"p":"a","c":"M_N→M_300","x":6,"y":5.3},{"p":"a","c":"M_N→F_100","x":0.8,"y":2.65},{"p":"a","c":"M_N→F_200","x":3,"y":3.6},{"p":"a","c":"M_N→F_300","x":5.7,"y":4.2},
{"p":"b","c":"M_N→M_100","x":11.2,"y":2.7},{"p":"b","c":"M_N→M_200","x":27.2,"y":3.27},{"p":"b","c":"M_N→M_300","x":40.8,"y":5.3},{"p":"b","c":"M_N→F_100","x":11.2,"y":2.63},{"p":"b","c":"M_N→F_200","x":27.2,"y":3.63},{"p":"b","c":"M_N→F_300","x":37.4,"y":4.16},
{"p":"c","c":"M_N→M_100","x":0.5,"y":9.1},{"p":"c","c":"M_N→M_200","x":2.8,"y":10.8},{"p":"c","c":"M_N→M_300","x":5.9,"y":17.4},{"p":"c","c":"M_N→F_100","x":0.8,"y":6.0},{"p":"c","c":"M_N→F_200","x":3,"y":11.2},{"p":"c","c":"M_N→F_300","x":5.7,"y":10.1},
{"p":"d","c":"M_N→M_100","x":11.2,"y":9.1},{"p":"d","c":"M_N→M_200","x":27.2,"y":10.7},{"p":"d","c":"M_N→M_300","x":40.8,"y":17.5},{"p":"d","c":"M_N→F_100","x":11.6,"y":6.05},{"p":"d","c":"M_N→F_200","x":27.2,"y":11.2},{"p":"d","c":"M_N→F_300","x":37.4,"y":10.2}
],
"zero":[{"y":0}]
},
"columns":2,
"spacing":{"row":48,"column":47},
"bounds":"flush",
"concat":[
{"width":267,"height":316,
"title":{"text":"a","anchor":"start","frame":"group","fontSize":20,"fontWeight":"bold","color":"black","baseline":"alphabetic","offset":0,"dx":5,"dy":46},
"layer":[
{"data":{"name":"a"},"mark":{"type":"line","interpolate":"catmull-rom"},
"encoding":{
"x":{"field":"x","type":"quantitative","scale":{"domain":[-4,40],"nice":false},"axis":{"values":[0,10,20,30,40],"title":null}},
"y":{"field":"y","type":"quantitative","scale":{"domain":[2,12],"nice":false},"axis":{"values":[2,4,6,8,10,12],"title":"Aperture [cm]"}},
"color":{"field":"c","type":"nominal","title":"Condition","scale":{"domain":["M_N","M_N→M_100","M_N→M_200","M_N→M_300","M_N→F_100","M_N→F_200","M_N→F_300"],"range":["#6e6e6e","#0072BD","#0072BD","#0072BD","#D95319","#D95319","#D95319"]}},
"strokeWidth":{"field":"c","type":"nominal","title":"Condition","scale":{"type":"ordinal","domain":["M_N","M_N→M_100","M_N→M_200","M_N→M_300","M_N→F_100","M_N→F_200","M_N→F_300"],"range":[1,1,2,3,1,2,3]}},
"order":{"field":"i","type":"quantitative"}}},
{"data":{"name":"dots"},"transform":[{"filter":"datum.p==='a' && indexof(datum.c,'→M')>=0"}],"mark":{"type":"circle","opacity":1,"color":"#0072BD"},
"encoding":{"x":{"field":"x","type":"quantitative"},"y":{"field":"y","type":"quantitative"},
"size":{"field":"c","type":"nominal","legend":null,"scale":{"type":"ordinal","domain":["M_N→M_100","M_N→M_200","M_N→M_300","M_N→F_100","M_N→F_200","M_N→F_300"],"range":[30,55,80,30,55,80]}}}},
{"data":{"name":"dots"},"transform":[{"filter":"datum.p==='a' && indexof(datum.c,'→F')>=0"}],"mark":{"type":"circle","opacity":1,"color":"#D95319"},
"encoding":{"x":{"field":"x","type":"quantitative"},"y":{"field":"y","type":"quantitative"},
"size":{"field":"c","type":"nominal","legend":null,"scale":{"type":"ordinal","domain":["M_N→M_100","M_N→M_200","M_N→M_300","M_N→F_100","M_N→F_200","M_N→F_300"],"range":[30,55,80,30,55,80]}}}}
]},
{"width":267,"height":316,
"title":{"text":"b","anchor":"start","frame":"group","fontSize":20,"fontWeight":"bold","color":"black","baseline":"alphabetic","offset":0,"dx":5,"dy":46},
"layer":[
{"data":{"name":"b"},"mark":{"type":"line","interpolate":"catmull-rom"},
"encoding":{
"x":{"field":"x","type":"quantitative","scale":{"domain":[-9.5,100],"nice":false},"axis":{"values":[0,25,50,75,100],"title":null}},
"y":{"field":"y","type":"quantitative","scale":{"domain":[2,12],"nice":false},"axis":{"values":[2,4,6,8,10,12],"title":null}},
"color":{"field":"c","type":"nominal","title":"Condition","scale":{"domain":["M_N","M_N→M_100","M_N→M_200","M_N→M_300","M_N→F_100","M_N→F_200","M_N→F_300"],"range":["#6e6e6e","#0072BD","#0072BD","#0072BD","#D95319","#D95319","#D95319"]}},
"strokeWidth":{"field":"c","type":"nominal","title":"Condition","scale":{"type":"ordinal","domain":["M_N","M_N→M_100","M_N→M_200","M_N→M_300","M_N→F_100","M_N→F_200","M_N→F_300"],"range":[1,1,2,3,1,2,3]}},
"order":{"field":"i","type":"quantitative"}}},
{"data":{"name":"dots"},"transform":[{"filter":"datum.p==='b' && indexof(datum.c,'→M')>=0"}],"mark":{"type":"circle","opacity":1,"color":"#0072BD"},
"encoding":{"x":{"field":"x","type":"quantitative"},"y":{"field":"y","type":"quantitative"},
"size":{"field":"c","type":"nominal","legend":null,"scale":{"type":"ordinal","domain":["M_N→M_100","M_N→M_200","M_N→M_300","M_N→F_100","M_N→F_200","M_N→F_300"],"range":[30,55,80,30,55,80]}}}},
{"data":{"name":"dots"},"transform":[{"filter":"datum.p==='b' && indexof(datum.c,'→F')>=0"}],"mark":{"type":"circle","opacity":1,"color":"#D95319"},
"encoding":{"x":{"field":"x","type":"quantitative"},"y":{"field":"y","type":"quantitative"},
"size":{"field":"c","type":"nominal","legend":null,"scale":{"type":"ordinal","domain":["M_N→M_100","M_N→M_200","M_N→M_300","M_N→F_100","M_N→F_200","M_N→F_300"],"range":[30,55,80,30,55,80]}}}}
]},
{"width":267,"height":316,
"title":{"text":"c","anchor":"start","frame":"group","fontSize":20,"fontWeight":"bold","color":"black","baseline":"alphabetic","offset":0,"dx":5,"dy":46},
"layer":[
{"data":{"name":"zero"},"mark":{"type":"rule","color":"#a0a0a0","strokeWidth":1},"encoding":{"y":{"field":"y","type":"quantitative"}}},
{"data":{"name":"c"},"mark":{"type":"line","interpolate":"catmull-rom"},
"encoding":{
"x":{"field":"x","type":"quantitative","scale":{"domain":[-4,40],"nice":false},"axis":{"values":[0,10,20,30,40],"title":"Transport distance [cm]","titlePadding":3}},
"y":{"field":"y","type":"quantitative","scale":{"domain":[-20,30],"nice":false},"axis":{"values":[-20,-10,0,10,20,30],"title":"Aperture velocity [cm/s]"}},
"color":{"field":"c","type":"nominal","title":"Condition","scale":{"domain":["M_N","M_N→M_100","M_N→M_200","M_N→M_300","M_N→F_100","M_N→F_200","M_N→F_300"],"range":["#6e6e6e","#0072BD","#0072BD","#0072BD","#D95319","#D95319","#D95319"]}},
"strokeWidth":{"field":"c","type":"nominal","title":"Condition","scale":{"type":"ordinal","domain":["M_N","M_N→M_100","M_N→M_200","M_N→M_300","M_N→F_100","M_N→F_200","M_N→F_300"],"range":[1,1,2,3,1,2,3]}},
"order":{"field":"i","type":"quantitative"}}},
{"data":{"name":"dots"},"transform":[{"filter":"datum.p==='c' && indexof(datum.c,'→M')>=0"}],"mark":{"type":"circle","opacity":1,"color":"#0072BD"},
"encoding":{"x":{"field":"x","type":"quantitative"},"y":{"field":"y","type":"quantitative"},
"size":{"field":"c","type":"nominal","legend":null,"scale":{"type":"ordinal","domain":["M_N→M_100","M_N→M_200","M_N→M_300","M_N→F_100","M_N→F_200","M_N→F_300"],"range":[30,55,80,30,55,80]}}}},
{"data":{"name":"dots"},"transform":[{"filter":"datum.p==='c' && indexof(datum.c,'→F')>=0"}],"mark":{"type":"circle","opacity":1,"color":"#D95319"},
"encoding":{"x":{"field":"x","type":"quantitative"},"y":{"field":"y","type":"quantitative"},
"size":{"field":"c","type":"nominal","legend":null,"scale":{"type":"ordinal","domain":["M_N→M_100","M_N→M_200","M_N→M_300","M_N→F_100","M_N→F_200","M_N→F_300"],"range":[30,55,80,30,55,80]}}}}
]},
{"width":267,"height":316,
"title":{"text":"d","anchor":"start","frame":"group","fontSize":20,"fontWeight":"bold","color":"black","baseline":"alphabetic","offset":0,"dx":5,"dy":46},
"layer":[
{"data":{"name":"zero"},"mark":{"type":"rule","color":"#a0a0a0","strokeWidth":1},"encoding":{"y":{"field":"y","type":"quantitative"}}},
{"data":{"name":"d"},"mark":{"type":"line","interpolate":"catmull-rom"},
"encoding":{
"x":{"field":"x","type":"quantitative","scale":{"domain":[-9.5,100],"nice":false},"axis":{"values":[0,25,50,75,100],"title":"Transport velocity [cm/s]","titlePadding":3}},
"y":{"field":"y","type":"quantitative","scale":{"domain":[-20,30],"nice":false},"axis":{"values":[-20,-10,0,10,20,30],"title":null}},
"color":{"field":"c","type":"nominal","title":"Condition","scale":{"domain":["M_N","M_N→M_100","M_N→M_200","M_N→M_300","M_N→F_100","M_N→F_200","M_N→F_300"],"range":["#6e6e6e","#0072BD","#0072BD","#0072BD","#D95319","#D95319","#D95319"]}},
"strokeWidth":{"field":"c","type":"nominal","title":"Condition","scale":{"type":"ordinal","domain":["M_N","M_N→M_100","M_N→M_200","M_N→M_300","M_N→F_100","M_N→F_200","M_N→F_300"],"range":[1,1,2,3,1,2,3]}},
"order":{"field":"i","type":"quantitative"}}},
{"data":{"name":"dots"},"transform":[{"filter":"datum.p==='d' && indexof(datum.c,'→M')>=0"}],"mark":{"type":"circle","opacity":1,"color":"#0072BD"},
"encoding":{"x":{"field":"x","type":"quantitative"},"y":{"field":"y","type":"quantitative"},
"size":{"field":"c","type":"nominal","legend":null,"scale":{"type":"ordinal","domain":["M_N→M_100","M_N→M_200","M_N→M_300","M_N→F_100","M_N→F_200","M_N→F_300"],"range":[30,55,80,30,55,80]}}}},
{"data":{"name":"dots"},"transform":[{"filter":"datum.p==='d' && indexof(datum.c,'→F')>=0"}],"mark":{"type":"circle","opacity":1,"color":"#D95319"},
"encoding":{"x":{"field":"x","type":"quantitative"},"y":{"field":"y","type":"quantitative"},
"size":{"field":"c","type":"nominal","legend":null,"scale":{"type":"ordinal","domain":["M_N→M_100","M_N→M_200","M_N→M_300","M_N→F_100","M_N→F_200","M_N→F_300"],"range":[30,55,80,30,55,80]}}}}
]}
],
"config":{
"font":"DejaVu Sans",
"view":{"stroke":null},
"axis":{"grid":false,"ticks":false,"domainColor":"#999999","domainWidth":1.5,"labelColor":"#444444","labelFontSize":13,"labelPadding":4,"labelFlush":false,"titleFontSize":15,"titleFontWeight":"bold","titleColor":"#333333","titlePadding":1},
"legend":{"orient":"none","legendX":585,"legendY":92,"titleFontSize":14,"titleFontStyle":"italic","titleFontWeight":"bold","titleColor":"black","titleAnchor":"middle","titlePadding":6,"labelFontSize":14,"labelColor":"#333333","symbolSize":320,"symbolType":"stroke","rowPadding":3,"labelOffset":6}
}
}
